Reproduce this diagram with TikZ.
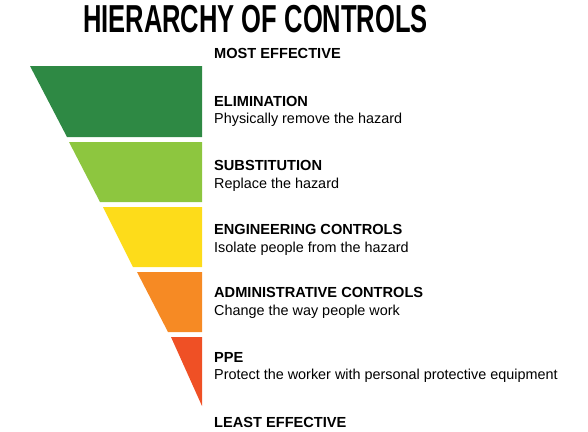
\documentclass[tikz,border=0pt]{standalone}
\usepackage{fontspec}
\setmainfont{Liberation Sans}
\usepackage{xcolor}
\usepackage{tikz}
\usetikzlibrary{positioning}

\definecolor{elimgreen}{HTML}{2E8944}
\definecolor{subsgreen}{HTML}{8DC63F}
\definecolor{enginyellow}{HTML}{FDDC1A}
\definecolor{adminorange}{HTML}{F68A24}
\definecolor{ppered}{HTML}{EF5025}

\begin{document}
\begin{tikzpicture}[
    x=1pt, y=-1pt,
    band/.style={draw=none},
    title/.style={anchor=base, inner sep=0pt, font=\fontsize{39}{42}\selectfont\bfseries},
    heading/.style={anchor=base west, inner sep=0pt, font=\fontsize{14.6}{17}\selectfont\bfseries},
    note/.style={anchor=base west, inner sep=0pt, font=\fontsize{14.4}{17}\selectfont}
]
\useasboundingbox (0,0) rectangle (588,431);

% === Title ===
\node[title] (title) at (255.5, 32) {\scalebox{0.655}[1]{HIERARCHY OF CONTROLS}};

% === Inverted triangle, five bands ===
\fill[band, elimgreen]   (30, 66)  -- (202, 66)  -- (202, 137) -- (67, 137)  -- cycle;
\fill[band, subsgreen]   (69, 142) -- (202, 142) -- (202, 202) -- (100, 202) -- cycle;
\fill[band, enginyellow] (103, 207) -- (202, 207) -- (202, 267) -- (133, 267) -- cycle;
\fill[band, adminorange] (137, 272) -- (202, 272) -- (202, 332) -- (168, 332) -- cycle;
\fill[band, ppered]      (171, 337) -- (202, 337) -- (202, 406) -- cycle;

% === Labels ===
\node[heading] (most) at (214, 58) {MOST EFFECTIVE};

\node[heading] (elim)     at (214, 106) {ELIMINATION};
\node[note]    (elimtxt)  at (214, 123) {Physically remove the hazard};

\node[heading] (subs)     at (214, 170) {SUBSTITUTION};
\node[note]    (substxt)  at (214, 188) {Replace the hazard};

\node[heading] (engin)    at (214, 234) {ENGINEERING CONTROLS};
\node[note]    (engintxt) at (214, 252) {Isolate people from the hazard};

\node[heading] (admin)    at (214, 297) {ADMINISTRATIVE CONTROLS};
\node[note]    (admintxt) at (214, 315) {Change the way people work};

\node[heading] (ppe)      at (214, 362) {PPE};
\node[note]    (ppetxt)   at (214, 379) {Protect the worker with personal protective equipment};

\node[heading] (least) at (214, 427) {LEAST EFFECTIVE};

\end{tikzpicture}
\end{document}
